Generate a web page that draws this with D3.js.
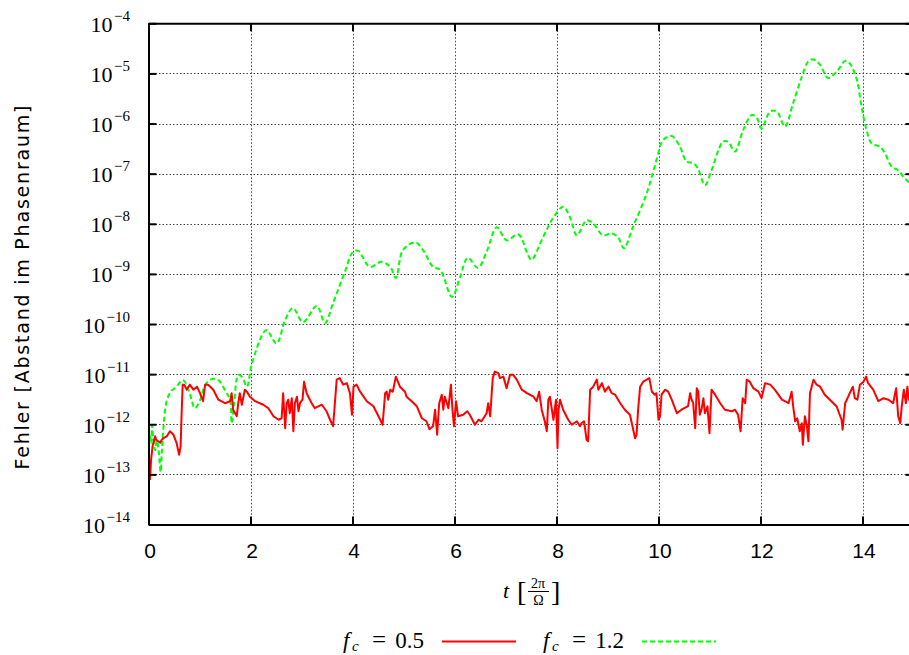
<!DOCTYPE html>
<html><head><meta charset="utf-8">
<script src="https://cdn.jsdelivr.net/npm/d3@7"></script>
<style>body{margin:0;background:#fff}svg{display:block}</style>
</head><body><svg id="chart" width="909" height="655"></svg>
<script>
// ---- data (t in units of 2π/Ω, error given as log10 of the value) ----
const xTickValues = [0, 2, 4, 6, 8, 10, 12, 14];
const yTickExponents = [-14, -13, -12, -11, -10, -9, -8, -7, -6, -5, -4];
const seriesLabels = ["0.5", "1.2"];

const redT = [0.03,0.05,0.08,0.13,0.15,0.19,0.23,0.26,0.30,0.36,0.42,0.49,0.55,0.60,0.63,0.65,0.67,0.70,0.75,0.81,0.88,0.95,1.01,1.07,1.11,1.17,1.27,1.37,1.50,1.60,1.63,1.66,1.73,1.76,1.79,1.83,1.89,1.93,1.99,2.09,2.25,2.35,2.45,2.55,2.61,2.64,2.68,2.71,2.74,2.77,2.81,2.84,2.87,2.91,2.94,2.97,3.02,3.05,3.10,3.20,3.26,3.40,3.49,3.56,3.62,3.69,3.75,3.82,3.89,3.95,3.99,4.02,4.08,4.15,4.28,4.41,4.51,4.59,4.64,4.67,4.70,4.74,4.79,4.85,4.93,5.03,5.06,5.16,5.26,5.36,5.45,5.51,5.58,5.62,5.66,5.70,5.75,5.78,5.81,5.85,5.88,5.93,5.96,5.99,6.03,6.07,6.17,6.25,6.30,6.40,6.47,6.53,6.63,6.66,6.70,6.73,6.75,6.79,6.86,6.89,6.96,7.02,7.09,7.15,7.22,7.32,7.42,7.55,7.61,7.66,7.71,7.77,7.81,7.84,7.87,7.91,7.94,7.99,8.02,8.04,8.07,8.13,8.23,8.30,8.40,8.46,8.49,8.54,8.59,8.62,8.66,8.72,8.79,8.82,8.89,8.95,9.02,9.08,9.15,9.25,9.34,9.44,9.49,9.54,9.57,9.60,9.64,9.70,9.77,9.82,9.87,9.93,9.96,10.00,10.03,10.06,10.13,10.19,10.26,10.36,10.45,10.58,10.62,10.65,10.68,10.72,10.75,10.78,10.81,10.85,10.88,10.91,10.96,11.00,11.04,11.11,11.21,11.30,11.44,11.50,11.56,11.61,11.65,11.70,11.73,11.79,11.86,11.96,12.02,12.09,12.19,12.28,12.42,12.55,12.61,12.64,12.68,12.72,12.77,12.81,12.83,12.87,12.91,12.94,12.97,13.04,13.10,13.17,13.26,13.36,13.49,13.59,13.61,13.66,13.72,13.75,13.81,13.85,13.90,13.95,14.02,14.07,14.11,14.21,14.31,14.41,14.51,14.60,14.66,14.70,14.74,14.77,14.81,14.85,14.88,14.91,15.00];
const redLog10Err = [-13.11,-12.71,-12.44,-12.24,-12.31,-12.34,-12.37,-12.31,-12.27,-12.24,-12.14,-12.21,-12.37,-12.61,-12.44,-11.77,-11.21,-11.21,-11.31,-11.21,-11.31,-11.25,-11.38,-11.54,-11.21,-11.21,-11.31,-11.51,-11.58,-11.54,-11.38,-11.71,-11.84,-11.58,-11.38,-11.61,-11.31,-11.35,-11.45,-11.54,-11.61,-11.68,-11.84,-11.91,-11.88,-11.38,-12.08,-11.58,-11.51,-11.78,-11.48,-12.14,-11.58,-11.45,-11.74,-11.58,-11.51,-11.15,-11.38,-11.58,-11.68,-11.61,-11.74,-11.91,-12.04,-11.11,-11.08,-11.21,-11.18,-11.38,-11.81,-11.25,-11.21,-11.35,-11.54,-11.64,-11.84,-12.01,-11.38,-11.35,-11.51,-11.31,-11.35,-11.05,-11.25,-11.35,-11.45,-11.54,-11.64,-11.88,-11.94,-12.10,-12.04,-11.71,-12.21,-11.58,-11.41,-11.71,-11.45,-11.58,-11.68,-11.21,-11.71,-12.04,-11.54,-11.84,-11.81,-11.74,-11.81,-12.01,-11.91,-11.94,-11.78,-11.58,-11.84,-11.38,-11.08,-10.95,-10.98,-11.08,-11.05,-11.28,-11.01,-11.01,-11.11,-11.31,-11.38,-11.45,-11.54,-11.35,-11.71,-11.94,-12.14,-11.51,-11.45,-11.71,-11.91,-11.51,-12.48,-11.71,-11.51,-11.71,-11.91,-12.01,-11.94,-12.04,-11.98,-11.94,-12.31,-12.34,-11.31,-11.25,-11.11,-11.31,-11.18,-11.35,-11.25,-11.38,-11.41,-11.58,-11.71,-11.81,-12.04,-12.28,-12.21,-11.71,-11.25,-11.15,-11.11,-11.08,-11.35,-11.41,-11.38,-11.91,-11.84,-11.41,-11.31,-11.35,-11.51,-11.78,-11.71,-11.64,-11.38,-11.51,-11.58,-12.08,-11.28,-11.35,-11.81,-11.68,-11.48,-11.78,-11.64,-12.18,-11.31,-11.41,-11.58,-11.71,-11.74,-11.71,-11.81,-12.14,-11.48,-11.58,-11.11,-11.15,-11.28,-11.35,-11.48,-11.18,-11.21,-11.31,-11.51,-11.58,-11.35,-11.64,-11.94,-11.88,-12.14,-11.98,-12.41,-11.84,-12.04,-12.34,-11.38,-11.11,-11.21,-11.25,-11.41,-11.51,-11.64,-11.91,-12.11,-11.58,-11.45,-11.38,-11.25,-11.48,-11.51,-11.21,-11.15,-11.05,-11.18,-11.31,-11.54,-11.48,-11.51,-11.58,-11.28,-11.84,-11.98,-11.64,-11.31,-11.58,-11.25,-11.51,-11.45];

const greenT = [0.03,0.05,0.07,0.09,0.13,0.16,0.19,0.24,0.26,0.29,0.36,0.46,0.52,0.68,0.81,0.91,1.01,1.11,1.24,1.37,1.50,1.60,1.63,1.68,1.76,1.83,1.93,2.02,2.25,2.32,2.51,2.68,2.83,3.03,3.30,3.46,3.62,3.85,4.01,4.11,4.34,4.57,4.74,4.85,4.99,5.23,5.38,5.58,5.72,5.95,6.11,6.26,6.46,6.63,6.83,7.02,7.25,7.44,7.51,7.74,7.93,8.13,8.26,8.40,8.59,8.72,8.91,9.08,9.21,9.32,9.50,9.77,9.96,10.09,10.26,10.42,10.55,10.68,10.77,10.91,11.04,11.19,11.26,11.36,11.50,11.66,11.83,11.93,12.02,12.19,12.32,12.48,12.64,12.81,12.93,13.03,13.17,13.32,13.49,13.66,13.75,13.89,13.98,14.08,14.18,14.34,14.44,14.57,14.70,14.80,14.90,15.00];
const greenLog10Err = [-12.22,-12.38,-12.02,-12.25,-12.52,-12.32,-12.45,-12.95,-12.58,-12.12,-11.52,-11.32,-11.28,-11.12,-11.39,-11.68,-11.52,-11.22,-11.10,-11.12,-11.32,-11.52,-11.98,-11.58,-11.02,-11.05,-11.25,-10.82,-10.18,-10.12,-10.39,-9.92,-9.68,-9.96,-9.64,-9.98,-9.58,-8.96,-8.56,-8.54,-8.86,-8.76,-8.86,-9.08,-8.52,-8.37,-8.52,-8.86,-8.92,-9.46,-9.06,-8.68,-8.88,-8.56,-8.07,-8.33,-8.21,-8.62,-8.72,-8.26,-7.89,-7.66,-7.86,-8.23,-7.93,-7.99,-8.23,-8.19,-8.27,-8.49,-8.06,-7.39,-6.73,-6.33,-6.25,-6.46,-6.76,-6.79,-6.89,-7.23,-6.93,-6.49,-6.36,-6.36,-6.56,-6.13,-5.83,-5.89,-6.10,-5.76,-5.76,-6.06,-5.59,-5.07,-4.77,-4.72,-4.83,-5.09,-4.97,-4.75,-4.80,-5.13,-5.66,-6.13,-6.40,-6.46,-6.59,-6.86,-6.93,-7.06,-7.16,-7.22];

// ---- drawing ----
const svg = d3.select("#chart");
const W = 909, H = 655;
const x = d3.scaleLinear().domain([0, 15]).range([148.5, 913.5]);
const y = d3.scaleLog().domain([1e-14, 1e-4]).range([524.5, 23.3]);
const pLeft = x(0), pRight = x(15), pTop = y(1e-4), pBottom = y(1e-14);

svg.append("rect").attr("width", W).attr("height", H).attr("fill", "#fff");

svg.append("defs").append("clipPath").attr("id", "clip")
  .append("rect").attr("x", pLeft).attr("y", pTop).attr("width", pRight - pLeft).attr("height", pBottom - pTop);

// grid
const grid = svg.append("g").attr("stroke", "#444").attr("stroke-width", 1).attr("stroke-dasharray", "1.5,2");
grid.selectAll("line.v").data(xTickValues.filter(d => d > 0)).join("line")
  .attr("x1", d => Math.round(x(d)) + 0.5).attr("x2", d => Math.round(x(d)) + 0.5)
  .attr("y1", pTop).attr("y2", pBottom);
grid.selectAll("line.h").data(yTickExponents.filter(e => e > -14 && e < -4)).join("line")
  .attr("x1", pLeft).attr("x2", pRight)
  .attr("y1", e => Math.round(y(Math.pow(10, e))) + 0.5).attr("y2", e => Math.round(y(Math.pow(10, e))) + 0.5);

// lines
const plot = svg.append("g").attr("clip-path", "url(#clip)");
const redData = redT.map((t, i) => [t, Math.pow(10, redLog10Err[i])]);
const greenData = greenT.map((t, i) => [t, Math.pow(10, greenLog10Err[i])]);

plot.append("path").datum(greenData)
  .attr("fill", "none").attr("stroke", "#00ff00").attr("stroke-width", 2)
  .attr("stroke-dasharray", "5,3")
  .attr("d", d3.line().x(d => x(d[0])).y(d => y(d[1])).curve(d3.curveCatmullRom.alpha(0.5)));
plot.append("path").datum(redData)
  .attr("fill", "none").attr("stroke", "#ff0000").attr("stroke-width", 2).attr("stroke-linejoin", "round")
  .attr("d", d3.line().x(d => x(d[0])).y(d => y(d[1])));

// axes (gnuplot-style inward ticks, mirrored)
const xAxisB = d3.axisBottom(x).tickValues(xTickValues).tickSizeInner(-8).tickSizeOuter(0).tickFormat("");
const xAxisT = d3.axisTop(x).tickValues(xTickValues).tickSizeInner(-8).tickSizeOuter(0).tickFormat("");
const yTickVals = yTickExponents.map(e => Math.pow(10, e));
const yAxisL = d3.axisLeft(y).tickValues(yTickVals).tickSizeInner(-8).tickSizeOuter(0).tickFormat("");
const yAxisR = d3.axisRight(y).tickValues(yTickVals).tickSizeInner(-8).tickSizeOuter(0).tickFormat("");
function styleAxis(g) {
  g.selectAll("path").attr("stroke", "#000").attr("stroke-width", 2);
  g.selectAll("line").attr("stroke", "#000").attr("stroke-width", 2);
}
svg.append("g").attr("transform", `translate(0,${pBottom})`).call(xAxisB).call(styleAxis);
svg.append("g").attr("transform", `translate(0,${pTop})`).call(xAxisT).call(styleAxis);
svg.append("g").attr("transform", `translate(${pLeft},0)`).call(yAxisL).call(styleAxis);
svg.append("g").attr("transform", `translate(${pRight},0)`).call(yAxisR).call(styleAxis);

// x tick labels
svg.append("g").selectAll("text").data(xTickValues).join("text")
  .attr("x", d => x(d) + 1.5).attr("y", 558)
  .attr("text-anchor", "middle")
  .attr("font-family", "'Liberation Sans', Arial, sans-serif").attr("font-size", 21)
  .text(d => d);

// y tick labels 10^e
const yl = svg.append("g").selectAll("text").data(yTickExponents).join("text")
  .attr("x", 130).attr("y", e => y(Math.pow(10, e)) + 8.5)
  .attr("text-anchor", "end")
  .attr("font-family", "'Liberation Serif', 'Times New Roman', serif").attr("font-size", 22);
yl.append("tspan").text("10");
yl.append("tspan").attr("dy", -11).attr("dx", 1.5).attr("font-size", 15).text(e => "\u2212" + Math.abs(e));

// y axis title
svg.append("text")
  .attr("transform", "translate(29,287.5) rotate(-90)")
  .attr("text-anchor", "middle")
  .attr("font-family", "'DejaVu Sans', 'Liberation Sans', sans-serif").attr("font-size", 19)
  .attr("textLength", 364).attr("lengthAdjust", "spacing")
  .text("Fehler [Abstand im Phasenraum]");

// x axis title: t [2π/Ω]
const serif = "'Liberation Serif', 'Times New Roman', serif";
const xt = svg.append("g").attr("font-family", serif);
xt.append("text").attr("x", 503).attr("y", 598).attr("font-size", 22).attr("font-style", "italic").text("t");
xt.append("text").attr("x", 517).attr("y", 601).attr("font-size", 28).text("[");
xt.append("text").attr("x", 538).attr("y", 588).attr("font-size", 14).attr("text-anchor", "middle").text("2\u03c0");
xt.append("line").attr("x1", 528).attr("x2", 549).attr("y1", 591.5).attr("y2", 591.5).attr("stroke", "#000").attr("stroke-width", 1);
xt.append("text").attr("x", 538.5).attr("y", 605).attr("font-size", 14).attr("text-anchor", "middle").text("\u03a9");
xt.append("text").attr("x", 551).attr("y", 601).attr("font-size", 28).text("]");

// legend
const legendColors = ["#ff0000", "#00ff00"];
const legendDash = [null, "5,3"];
const legendX = [343, 543];
seriesLabels.forEach((lab, i) => {
  const g = svg.append("g").attr("transform", `translate(${legendX[i]},0)`).attr("font-family", serif);
  g.append("text").attr("x", 0).attr("y", 648).attr("font-size", 23).attr("font-style", "italic").text("f");
  g.append("text").attr("x", 9).attr("y", 651).attr("font-size", 15).attr("font-style", "italic").text("c");
  g.append("text").attr("x", 36).attr("y", 648).attr("font-size", 25).attr("text-anchor", "middle").text("=");
  g.append("text").attr("x", 81).attr("y", 648).attr("font-size", 23).attr("text-anchor", "end").text(lab);
  g.append("line").attr("x1", 99).attr("x2", 173).attr("y1", 641.5).attr("y2", 641.5)
    .attr("stroke", legendColors[i]).attr("stroke-width", 2)
    .attr("stroke-dasharray", legendDash[i]);
});
</script>
</body></html>
